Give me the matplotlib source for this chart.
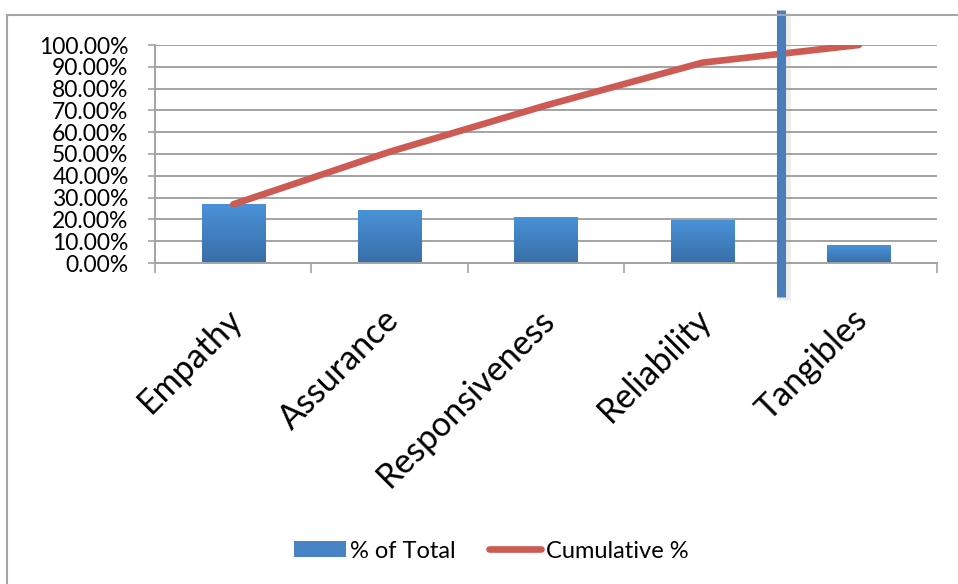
import numpy as np
import matplotlib
matplotlib.use("Agg")
import matplotlib.pyplot as plt
from matplotlib.lines import Line2D
from matplotlib.patches import Patch
import matplotlib.patheffects as pe
import matplotlib.transforms as mtransforms

plt.rcParams['font.family'] = ['Lato', 'DejaVu Sans']

# Pareto data (percent of total per dimension)
categories = ["Empathy", "Assurance", "Responsiveness", "Reliability", "Tangibles"]
pct_total = [26.9, 24.1, 21.3, 19.6, 8.1]
cumulative = [26.9, 51.0, 72.3, 91.9, 100.0]
y_ticks = [0, 10, 20, 30, 40, 50, 60, 70, 80, 90, 100]

W, H = 958, 584
fig = plt.figure(figsize=(W / 100, H / 100), dpi=100)
ax = fig.add_axes([155 / W, (H - 263) / H, (937 - 155) / W, (263 - 45) / H])

grid_col = "#a3a3a3"
x = np.arange(len(categories))

# gradient bars
bar_top = np.array([74, 146, 216]) / 255
bar_bot = np.array([56, 110, 168]) / 255
grad = np.linspace(0, 1, 256)[:, None, None]
grad_img = bar_bot * (1 - grad) + bar_top * grad
bars = ax.bar(x, pct_total, width=0.405, color=bar_top, zorder=2, linewidth=0)
for b in bars:
    bx, by = b.get_x(), b.get_y()
    im = ax.imshow(grad_img, extent=[bx, bx + b.get_width(), by, by + b.get_height()],
                   origin="lower", aspect="auto", zorder=2.1)
    im.set_clip_path(b)

# cumulative line
ax.plot(x, cumulative, color="#cd5b53", linewidth=4.8, solid_capstyle="round",
        zorder=3)

ax.set_xlim(-0.5, len(categories) - 0.5)
ax.set_ylim(0, 100)
ax.set_yticks(y_ticks)
ax.set_yticklabels([f"{v:.2f}%" for v in y_ticks], fontsize=16.5)
ax.yaxis.grid(True, color=grid_col, linewidth=1.4, zorder=0)
ax.set_axisbelow(True)

ax.set_xticks(x)
ax.set_xticklabels(categories, fontsize=24.5, rotation=45, ha="right",
                   rotation_mode="anchor", va="center")
ax.set_xticks(np.arange(-0.5, len(categories)), minor=True)
ax.tick_params(axis="x", which="major", length=0, pad=37)
ax.tick_params(axis="x", which="minor", length=7.5, width=1.2, color=grid_col,
               direction="out")
ax.tick_params(axis="y", length=5, width=1.2, color=grid_col, pad=14)
shift = mtransforms.ScaledTranslation(4 / 100, 0, fig.dpi_scale_trans)
for lbl in ax.get_xticklabels():
    lbl.set_transform(lbl.get_transform() + shift)
for lbl in ax.get_yticklabels():
    lbl.set_verticalalignment("center_baseline")

for s in ["top", "right"]:
    ax.spines[s].set_visible(False)
for s in ["left", "bottom"]:
    ax.spines[s].set_color(grid_col)
    ax.spines[s].set_linewidth(1.4)

# vertical divider between vital few and the rest
ax.plot([3.5, 3.5], [-15.6, 116.1], color="#4a7ebb", linewidth=6.5,
        clip_on=False, zorder=5, solid_capstyle="butt",
        path_effects=[pe.SimpleLineShadow(offset=(2.5, -2), shadow_color="#999999",
                                          alpha=0.18, linewidth=9),
                      pe.Normal()])

# chart-area frame
fig.add_artist(Line2D([7 / W, 1], [1 - 15 / H, 1 - 15 / H], color="#a6a6a6",
                      linewidth=1.5, transform=fig.transFigure))
fig.add_artist(Line2D([7 / W, 7 / W], [0, 1 - 15 / H], color="#a6a6a6",
                      linewidth=1.5, transform=fig.transFigure))

handles = [Patch(facecolor="#4684c6", edgecolor="none"),
           Line2D([0], [0], color="#cd5b53", linewidth=4.8, solid_capstyle="round")]
fig.legend(handles, ["% of Total", "Cumulative %"], loc="center",
           bbox_to_anchor=(491 / W, 1 - 551 / H), ncol=2, frameon=False,
           fontsize=17, handlelength=2.2, handleheight=0.65, handletextpad=0.2,
           columnspacing=1.4)

fig.savefig("out.png", dpi=100)
